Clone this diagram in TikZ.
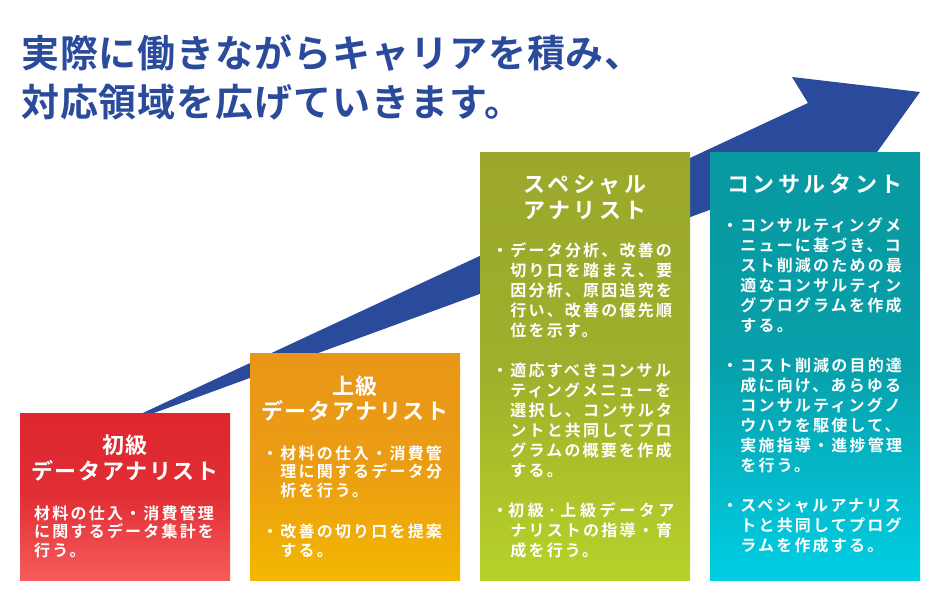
\documentclass[tikz,border=0pt]{standalone}
\usepackage{fontspec}
\newfontfamily\jpT{Noto Sans CJK JP}[UprightFont=* Bold, LetterSpace=2.4]
\newfontfamily\jpH{Noto Sans CJK JP}[UprightFont=* Bold, LetterSpace=7.7]
\newfontfamily\jpHH{Noto Sans CJK JP}[UprightFont=* Bold, LetterSpace=16]
\newfontfamily\jpB{Noto Sans CJK JP}[UprightFont=* Bold, LetterSpace=13.75]
\newfontfamily\jpBw{Noto Sans CJK JP}[UprightFont=* Bold, LetterSpace=22.5]
\definecolor{navy}{RGB}{42,74,155}
\definecolor{redD}{RGB}{222,38,46}
\definecolor{redL}{RGB}{246,92,92}
\definecolor{orgD}{RGB}{233,150,24}
\definecolor{orgL}{RGB}{243,183,0}
\definecolor{grnD}{RGB}{155,168,44}
\definecolor{grnL}{RGB}{184,210,42}
\definecolor{tealD}{RGB}{8,152,160}
\definecolor{tealL}{RGB}{0,206,228}
\newcommand\bodyblock[3]{\vtop{\jpB\fontsize{16pt}{#1}\selectfont
  \hsize=260pt\parindent=0pt\parskip=#2\relax
  \leftskip=0pt\rightskip=0pt plus 1fil\parfillskip=0pt plus 1fil
  #3}}
\newcommand\bpara[1]{\hangindent=18.2pt\hangafter=1\noindent ・#1\par}
\newcommand\ppara[1]{\noindent #1\par}
\begin{document}
\begin{tikzpicture}[x=1pt,y=-1pt,
  panel/.style={minimum width=210pt,inner sep=0pt,outer sep=0pt,shading angle=-35},
  title/.style={anchor=base west,inner sep=0pt,text=navy,font=\jpT\fontsize{38pt}{50pt}\selectfont},
  headA/.style={anchor=base,inner sep=0pt,text=white,font=\jpH\fontsize{22pt}{26pt}\selectfont},
  headB/.style={anchor=base,inner sep=0pt,text=white,font=\jpHH\fontsize{22pt}{26pt}\selectfont},
  body/.style={anchor=base west,inner sep=0pt,text=white}]
\useasboundingbox (0,0) rectangle (940,600);
\fill[white] (0,0) rectangle (940,600);
% title
\node[title] (t1) at (21,67) {実際に働きながらキャリアを積み、};
\node[title] (t2) at (21,116) {対応領域を広げていきます。};
% arrow
\fill[navy] (102,432) -- (808,103) -- (792,77) -- (920,92) -- (860,176) -- (715,208) -- cycle;
% panels
\node[panel,minimum height=167pt,bottom color=redL,top color=redD,middle color=redD!85!redL] (pRed) at (125,496.5) {};
\node[panel,minimum height=227pt,bottom color=orgL,top color=orgD,middle color=orgD!80!orgL] (pOrg) at (355,466.5) {};
\node[panel,minimum height=428pt,bottom color=grnL,top color=grnD,middle color=grnD!85!grnL] (pGrn) at (585,366) {};
\node[panel,minimum height=428pt,bottom color=tealL,top color=tealD,middle color=tealD!85!tealL] (pTeal) at (815,366) {};
% headings
\node[headA] (hR1) at (125,453.4) {初級};
\node[headA] (hR2) at (125,479.4) {データアナリスト};
\node[headA] (hO1) at (355,394.4) {上級};
\node[headA] (hO2) at (355,419.4) {データアナリスト};
\node[headB] (hG1) at (585,192.4) {スペシャル};
\node[headB] (hG2) at (585,218.4) {アナリスト};
\node[headB] (hT1) at (815,192.4) {コンサルタント};
% bodies
\node[body] (bR) at (34,519.4) {\bodyblock{18.35pt}{0pt}{%
\ppara{材料の仕入・消費管理\newline に関するデータ集計を\newline 行う。}}};
\node[body] (bO) at (262,459) {\bodyblock{18.5pt}{23.3pt}{%
\bpara{材料の仕入・消費管\newline 理に関するデータ分\newline 析を行う。}%
\bpara{改善の切り口を提案\newline する。}}};
\node[body] (bG) at (492,256.1) {\bodyblock{20pt}{20pt}{%
\bpara{データ分析、改善の\newline 切り口を踏まえ、要\newline 因分析、原因追究を\newline 行い、改善の優先順\newline 位を示す。}%
\bpara{適応すべきコンサル\newline ティングメニューを\newline 選択し、コンサルタ\newline ントと共同してプロ\newline グラムの概要を作成\newline する。}%
\bpara{{\jpBw 初級·上級データア}\newline ナリストの指導・育\newline 成を行う。}}};
\node[body] (bT) at (722,231.1) {\bodyblock{20pt}{20pt}{%
\bpara{コンサルティングメ\newline ニューに基づき、コ\newline スト削減のための最\newline 適なコンサルティン\newline グプログラムを作成\newline する。}%
\bpara{コスト削減の目的達\newline 成に向け、あらゆる\newline コンサルティングノ\newline ウハウを駆使して、\newline 実施指導・進捗管理\newline を行う。}%
\bpara{スペシャルアナリス\newline トと共同してプログ\newline ラムを作成する。}}};
\end{tikzpicture}
\end{document}
